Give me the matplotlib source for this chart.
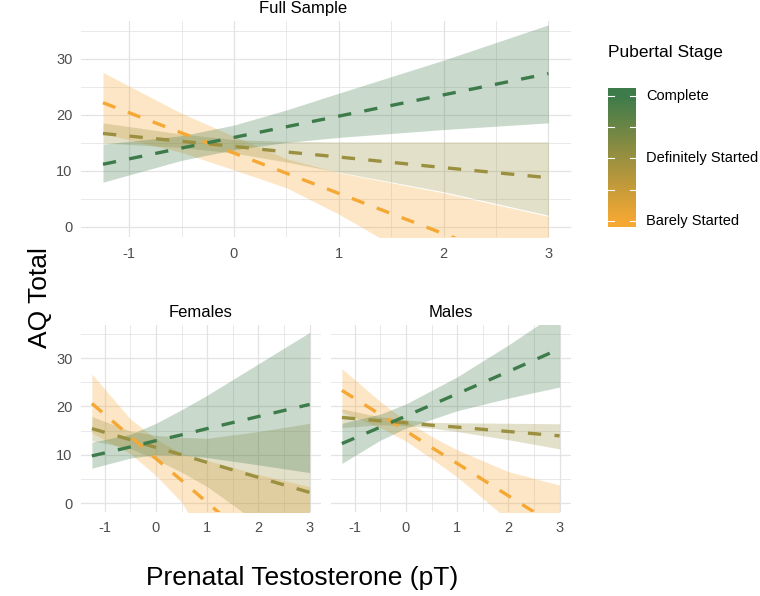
import numpy as np
import matplotlib
matplotlib.use("Agg")
import matplotlib.pyplot as plt
from matplotlib.colors import LinearSegmentedColormap

plt.rcParams['font.family'] = ['Liberation Sans', 'DejaVu Sans']
plt.rcParams['axes.unicode_minus'] = False

# ---------------- data ----------------
x_pts = [-1.25, -0.5, 0, 0.5, 1, 2, 3]
stages = ["Barely Started", "Definitely Started", "Complete"]
stage_vals = [1, 2, 3]

# Full sample
full_line = {
    "Complete": [11.2, 14.1, 16.0, 17.9, 19.8, 23.6, 27.4],
    "Definitely Started": [16.7, 15.3, 14.4, 13.4, 12.5, 10.6, 8.8],
    "Barely Started": [22.2, 16.8, 13.2, 9.6, 6.0, -1.2, -8.4],
}
full_upper = {
    "Complete": [14.8, 16.3, 18.2, 20.9, 23.9, 29.8, 36.1],
    "Definitely Started": [18.6, 16.6, 15.6, 15.3, 15.2, 15.2, 15.2],
    "Barely Started": [27.6, 20.3, 16.2, 12.2, 9.7, 6.1, 1.9],
}
full_lower = {
    "Complete": [8.0, 11.9, 13.8, 15.1, 16.0, 17.4, 18.6],
    "Definitely Started": [15.0, 14.2, 13.2, 11.6, 9.8, 6.3, 2.1],
    "Barely Started": [16.7, 13.3, 10.2, 7.0, 2.3, -8.5, -18.7],
}

# Females
fem_line = {
    "Complete": [9.75, 11.6, 12.9, 14.1, 15.4, 17.9, 20.4],
    "Definitely Started": [15.4, 13.1, 11.5, 10.0, 8.4, 5.3, 2.2],
    "Barely Started": [20.6, 13.8, 9.2, 4.7, 0.1, -9.0, -18.1],
}
fem_upper = {
    "Complete": [12.6, 14.2, 16.5, 19.3, 22.3, 28.8, 35.3],
    "Definitely Started": [17.9, 14.9, 14.0, 13.6, 13.4, 14.8, 16.5],
    "Barely Started": [26.7, 17.4, 13.3, 10.2, 8.8, 5.9, 3.4],
}
fem_lower = {
    "Complete": [7.2, 9.3, 10.0, 9.9, 9.4, 7.9, 6.3],
    "Definitely Started": [12.9, 11.3, 9.0, 6.4, 3.4, -4.2, -12.1],
    "Barely Started": [14.5, 10.2, 5.7, 0.2, -8.6, -23.8, -39.6],
}

# Males
mal_line = {
    "Complete": [12.3, 15.7, 18.0, 20.3, 22.6, 27.2, 31.9],
    "Definitely Started": [17.7, 17.0, 16.6, 16.1, 15.7, 14.8, 13.9],
    "Barely Started": [23.3, 18.3, 14.9, 11.5, 8.2, 1.5, -5.2],
}
mal_upper = {
    "Complete": [16.5, 18.4, 20.5, 23.3, 26.1, 32.7, 39.8],
    "Definitely Started": [19.5, 17.8, 17.2, 16.7, 16.6, 16.5, 16.4],
    "Barely Started": [27.8, 21.0, 17.0, 13.8, 11.0, 6.5, 3.7],
}
mal_lower = {
    "Complete": [8.2, 13.0, 15.5, 17.3, 19.1, 21.7, 24.0],
    "Definitely Started": [15.6, 16.2, 16.0, 15.5, 14.8, 13.1, 11.2],
    "Barely Started": [18.8, 15.6, 12.8, 9.2, 5.4, -3.5, -14.1],
}

x_ticks = [-1, 0, 1, 2, 3]
y_ticks = [0, 10, 20, 30]

# ---------------- style ----------------
cmap = LinearSegmentedColormap.from_list(
    "pub", [(0.0, "#F5A833"), (0.5, "#9A9040"), (1.0, "#3E7B4B")])
def stage_color(v):
    return cmap((v - 1) / 2.0)

tick_col = "#4D4D4D"
grid_col = "#E3E3E3"
xlim = (-1.4625, 3.2125)
ylim = (-1.75, 36.75)

fig = plt.figure(figsize=(7.6, 5.96), dpi=100)

def panel(rect, title, line, upper, lower, show_y=True):
    ax = fig.add_axes(rect)
    ax.set_xlim(*xlim)
    ax.set_ylim(*ylim)
    for s in ax.spines.values():
        s.set_visible(False)
    ax.set_xticks(x_ticks)
    ax.set_yticks(y_ticks)
    ax.set_xticks([-0.5, 0.5, 1.5, 2.5], minor=True)
    ax.set_yticks([5, 15, 25, 35], minor=True)
    ax.grid(True, which="major", color=grid_col, lw=0.9)
    ax.grid(True, which="minor", color=grid_col, lw=0.55)
    ax.set_axisbelow(True)
    ax.tick_params(which="both", length=0, colors=tick_col, labelsize=10.5)
    ax.tick_params(axis="x", pad=7)
    ax.tick_params(axis="y", pad=6)
    if not show_y:
        ax.set_yticklabels([])
    for st, v in zip(stages, stage_vals):
        c = stage_color(v)
        ax.fill_between(x_pts, lower[st], upper[st], color=c, alpha=0.28, lw=0)
    for st, v in zip(stages, stage_vals):
        c = stage_color(v)
        ln, = ax.plot(x_pts, line[st], color=c, lw=2.4, solid_capstyle="butt")
        ln.set_dashes((4.0, 4.0))
        ln.set_dash_capstyle("butt")
    if title:
        ax.set_title(title, fontsize=12, color="black", pad=6)
    return ax

W, H = 760.0, 596.0
def rect(l, t, r, b):
    return [l / W, 1 - b / H, (r - l) / W, (b - t) / H]

ax_top = panel(rect(80.7, 21.2, 570.7, 236.8), "", full_line, full_upper, full_lower)
fig.text(303 / W, 1 - 9 / H, "Full Sample", ha="center", va="center", fontsize=12)
ax_f = panel(rect(81, 325.4, 320.5, 511.5), "Females", fem_line, fem_upper, fem_lower)
ax_m = panel(rect(331, 325.4, 570.5, 511.5), "Males", mal_line, mal_upper, mal_lower, show_y=False)

# axis labels
fig.text(40 / W, 1 - 298 / H, "AQ Total", rotation=90, ha="center", va="center", fontsize=19)
fig.text(302 / W, 1 - 578 / H, "Prenatal Testosterone (pT)", ha="center", va="center", fontsize=19)

# colour bar legend
cb_lo, cb_hi = 0.9, 3.13
cax = fig.add_axes(rect(608, 88, 636, 227))
grad = np.linspace(cb_lo, cb_hi, 256).reshape(-1, 1)
cax.imshow((grad - 1) / 2.0, aspect="auto", cmap=cmap, vmin=0, vmax=1,
           origin="lower", extent=(0, 1, cb_lo, cb_hi))
cax.set_xlim(0, 1)
cax.set_ylim(cb_lo, cb_hi)
cax.set_xticks([])
cax.set_yticks([])
for s in cax.spines.values():
    s.set_visible(False)
for v in [1, 1.5, 2, 2.5, 3]:
    cax.plot([0, 0.2], [v, v], color="white", lw=0.8)
    cax.plot([0.8, 1], [v, v], color="white", lw=0.8)
for st, v in zip(stages, stage_vals):
    cax.text(1.35, v, st, transform=cax.transData, ha="left", va="center",
             fontsize=10.5, color="black", clip_on=False)
fig.text(608 / W, 1 - 52 / H, "Pubertal Stage", ha="left", va="center", fontsize=12.5)

fig.savefig("out.png", dpi=100)
